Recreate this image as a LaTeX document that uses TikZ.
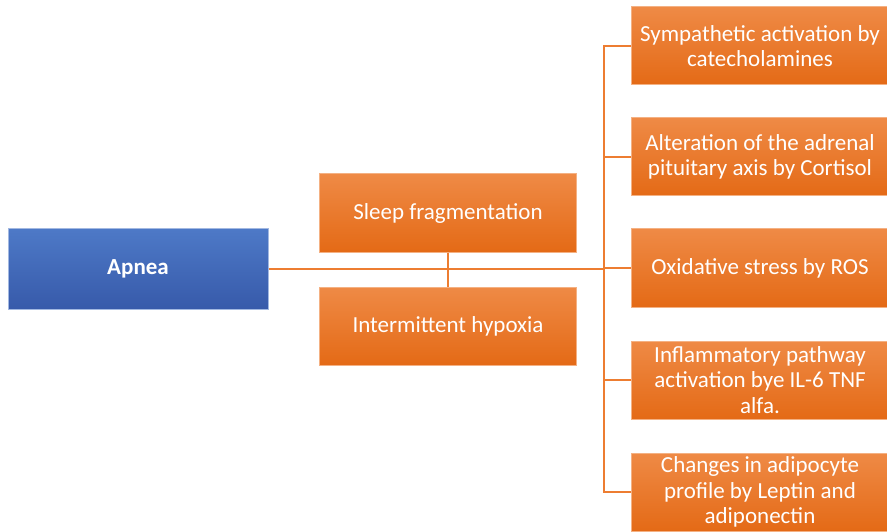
\documentclass[tikz,border=0pt]{standalone}
\usepackage{fontspec}
\setmainfont{Carlito}
\usetikzlibrary{positioning}
\definecolor{offorange}{RGB}{237,125,49}
\definecolor{orangelow}{RGB}{228,106,22}
\definecolor{offblue}{RGB}{68,114,196}
\definecolor{bluelow}{RGB}{55,90,170}

\begin{document}
\begin{tikzpicture}[
      x=1pt, y=-1pt,
      box/.style={draw, line width=1pt, minimum width=257pt, minimum height=78pt, inner sep=0pt,
        align=center, text=white, font=\fontsize{23}{25.5}\selectfont},
      cause/.style={box, draw=offorange!60!white, top color=offorange!90!white, bottom color=orangelow},
      effect/.style={cause},
      root/.style={box, minimum width=260pt, minimum height=80pt, draw=offblue!50!white,
        top color=offblue!95!white, bottom color=bluelow, font=\fontsize{23}{25.5}\selectfont\bfseries},
      link/.style={draw=offorange, line width=1.5pt}
    ]
    \useasboundingbox (0,0) rectangle (887,532);
    \clip (0,0) rectangle (887,532);

    % left: the disorder itself
    \node[root]   (apnea)   at (138,269) {Apnea};

    % middle: the two mechanisms
    \node[cause]  (sleep)   at (448,213) {Sleep fragmentation};
    \node[cause]  (hypoxia) at (448,326) {Intermittent hypoxia};

    % right: the consequences, stacked from top to bottom
    \node[effect] (symp)    at (760,46)  {Sympathetic activation by\\catecholamines};
    \node[effect] (cort)    at (760,157) {Alteration of the adrenal\\pituitary axis by Cortisol};
    \node[effect] (ros)     at (760,268) {Oxidative stress by ROS};
    \node[effect] (infl)    at (760,380) {Inflammatory pathway\\activation bye IL-6 TNF\\alfa.};
    \node[effect] (adipo)   at (760,492) {Changes in adipocyte\\profile by Leptin and\\adiponectin};

    \coordinate (trunk) at (604,269);

    % connectors
    \draw[link] (apnea) -- (trunk);
    \draw[link] (sleep) -- (hypoxia);
    \foreach \n in {symp,cort,ros,infl,adipo}
      \draw[link] (trunk) |- (\n.west);
  \end{tikzpicture}
\end{document}
